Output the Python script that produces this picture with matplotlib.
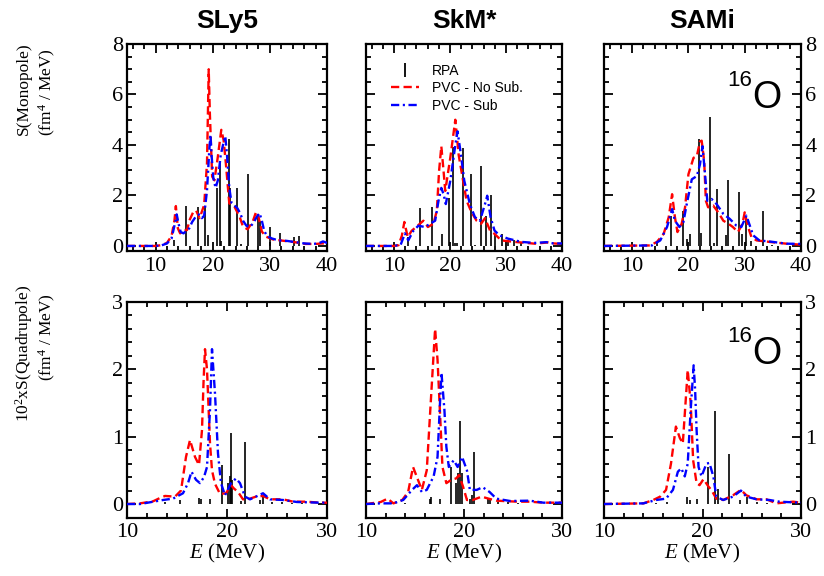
import matplotlib
matplotlib.use("Agg")
import matplotlib.pyplot as plt
from matplotlib.ticker import MultipleLocator
from matplotlib.lines import Line2D

plt.rcParams['font.family'] = ['Liberation Serif', 'DejaVu Serif']
plt.rcParams['mathtext.fontset'] = 'custom'
plt.rcParams['mathtext.rm'] = 'Liberation Serif'
plt.rcParams['mathtext.it'] = 'Liberation Serif:italic'

# ---------------- Monopole strength (fm^4/MeV) ----------------
# SLy5
sly5_mono_rpa_E = [13.2, 15.4, 17.5, 18.7, 19.1, 20.7, 21.2, 21.5, 22.9, 23.1, 24.2, 24.9, 26.1, 28.0, 28.3, 30.0, 31.8, 34.2, 35.1]
sly5_mono_rpa_S = [0.22, 1.57, 1.53, 1.6, 0.42, 2.31, 3.36, 0.18, 4.24, 2.3, 2.29, 0.09, 2.86, 1.27, 1.0, 0.75, 0.5, 0.37, 0.4]
sly5_mono_nosub_E = [5, 10, 11, 12, 12.8, 13.3, 13.55, 13.9, 14.3, 14.9, 15.5, 16.0, 16.6, 17.1, 17.7, 18.5, 19.0, 19.3, 19.5, 19.9, 20.3, 20.9, 21.5, 21.9, 22.3, 22.9, 23.8, 24.7, 25.3, 26.1, 27.0, 27.6, 28.0, 28.6, 29.3, 30.5, 32.2, 34.0, 36.3, 38.0, 39.2, 40]
sly5_mono_nosub_S = [0, 0, 0.03, 0.12, 0.4, 1.0, 1.58, 0.7, 0.5, 0.63, 0.63, 1.05, 1.35, 1.4, 1.1, 1.62, 3.27, 7.0, 5.25, 2.75, 2.6, 3.54, 4.6, 4.2, 3.27, 1.69, 1.56, 1.16, 0.77, 0.66, 0.96, 1.36, 1.16, 0.57, 0.37, 0.26, 0.21, 0.16, 0.08, 0.08, 0.1, 0.1]
sly5_mono_sub_E = [5, 10, 11, 12, 12.8, 13.4, 13.7, 14.0, 14.4, 14.9, 15.4, 15.9, 16.4, 17.0, 17.6, 18.1, 18.5, 19.0, 19.4, 19.6, 19.8, 20.1, 20.5, 20.9, 21.4, 21.8, 22.2, 22.5, 22.9, 23.3, 23.8, 24.3, 24.8, 25.3, 25.9, 26.5, 27.1, 27.7, 28.2, 28.6, 29.0, 29.5, 30.3, 31.5, 33, 34.5, 36, 37.5, 38.5, 39.3, 40]
sly5_mono_sub_S = [0, 0, 0.02, 0.1, 0.3, 0.9, 1.25, 0.9, 0.55, 0.5, 0.6, 0.7, 0.95, 1.15, 1.25, 1.1, 1.2, 2.2, 3.8, 4.4, 3.6, 2.7, 2.3, 2.6, 3.6, 4.0, 4.35, 3.6, 2.3, 1.7, 1.6, 1.5, 1.3, 1.0, 0.8, 0.75, 0.9, 1.15, 1.3, 1.0, 0.6, 0.4, 0.3, 0.22, 0.2, 0.15, 0.1, 0.08, 0.1, 0.18, 0.12]

# SkM*
skm_mono_rpa_E = [12.5, 14.7, 16.7, 18.5, 19.8, 20.5, 20.9, 21.2, 22.4, 23.7, 24.4, 25.5, 26.5, 27.4, 28.1, 29.2, 30.4, 31.5, 32.7]
skm_mono_rpa_S = [0.35, 1.5, 1.53, 0.48, 1.88, 3.92, 0.1, 0.1, 3.88, 2.86, 0.03, 3.16, 1.2, 2.0, 0.48, 0.48, 0.16, 0.22, 0.15]
skm_mono_nosub_E = [5, 10, 10.8, 11.4, 11.85, 12.45, 13.15, 14.05, 15.25, 16.05, 17.05, 17.65, 18.05, 18.45, 18.85, 19.15, 20.05, 20.95, 21.55, 22.25, 22.95, 23.85, 24.75, 25.55, 26.25, 27.15, 27.95, 29.15, 31.55, 35.15, 37.5, 38.5, 40]
skm_mono_nosub_S = [0, 0, 0.03, 0.4, 0.95, 0.35, 0.6, 0.77, 1.0, 0.75, 0.88, 1.4, 2.97, 3.95, 2.97, 2.18, 3.49, 5.0, 3.6, 2.7, 1.8, 1.33, 1.0, 0.88, 1.1, 0.61, 0.48, 0.22, 0.16, 0.09, 0.14, 0.1, 0.08]
skm_mono_sub_E = [5, 10, 11.2, 11.95, 12.55, 13.45, 14.35, 15.55, 16.45, 17.35, 17.95, 18.45, 18.85, 19.25, 20.05, 20.95, 21.35, 21.95, 22.55, 23.55, 24.45, 25.35, 26.25, 26.65, 27.25, 27.95, 28.85, 30.35, 32.75, 35.15, 37.2, 38.5, 40]
skm_mono_sub_S = [0, 0, 0.05, 0.5, 0.22, 0.6, 0.8, 0.75, 0.88, 1.0, 1.79, 2.3, 2.05, 1.66, 2.58, 4.0, 4.54, 3.62, 2.58, 1.66, 1.14, 1.0, 1.66, 1.99, 1.14, 0.61, 0.42, 0.29, 0.16, 0.12, 0.15, 0.1, 0.1]

# SAMi
sami_mono_rpa_E = [14.4, 16.9, 19.0, 19.8, 20.2, 21.9, 22.3, 23.9, 24.5, 25.0, 26.6, 27.1, 29.0, 29.6, 30.2, 31.2, 33.2, 34.9]
sami_mono_rpa_S = [0.12, 1.2, 1.4, 0.29, 0.48, 4.24, 0.51, 5.1, 0.12, 2.25, 0.42, 2.6, 2.14, 0.48, 1.05, 0.2, 1.37, 0.05]
sami_mono_nosub_E = [5, 13.2, 14.4, 15.6, 16.5, 17.1, 17.6, 18.05, 18.8, 19.4, 20.0, 20.9, 21.5, 22.05, 22.35, 22.8, 23.1, 23.5, 24.4, 25.3, 26.2, 27.1, 27.9, 28.8, 29.6, 30.0, 30.6, 31.2, 32.1, 34.4, 37.4, 40]
sami_mono_nosub_S = [0, 0.02, 0.16, 0.48, 1.14, 2.05, 1.14, 0.55, 0.88, 1.53, 2.84, 3.49, 3.56, 4.14, 4.17, 3.36, 1.79, 1.53, 1.6, 1.33, 1.0, 0.88, 0.75, 0.55, 0.88, 1.33, 0.75, 0.35, 0.22, 0.16, 0.09, 0.05]
sami_mono_sub_E = [5, 13.5, 15.0, 16.2, 17.1, 17.6, 18.4, 19.1, 19.7, 20.6, 21.5, 22.05, 22.5, 22.9, 23.35, 24.1, 25.0, 26.2, 27.35, 28.5, 29.4, 30.3, 30.9, 31.5, 32.6, 35.0, 37.4, 40]
sami_mono_sub_S = [0, 0.02, 0.22, 0.75, 1.46, 1.0, 0.75, 0.94, 1.66, 2.64, 2.77, 3.23, 3.95, 2.97, 1.79, 1.86, 1.66, 1.27, 1.07, 0.81, 0.75, 1.2, 0.81, 0.42, 0.22, 0.16, 0.09, 0.08]

# ---------------- Quadrupole strength (10^2 fm^4/MeV) ----------------
# SLy5
sly5_quad_rpa_E = [13.8, 15.3, 17.2, 17.35, 18.3, 19.5, 20.1, 20.3, 20.4, 20.5, 21.4, 21.8, 23.3, 23.6, 24.5, 25.5, 26.5, 27.5]
sly5_quad_rpa_S = [0.03, 0.06, 0.09, 0.07, 0.07, 0.58, 0.31, 0.41, 1.06, 0.35, 0.04, 0.92, 0.06, 0.11, 0.03, 0.03, 0.02, 0.02]
sly5_quad_nosub_E = [10, 11.3, 12.6, 13.3, 13.8, 14.8, 15.4, 15.9, 16.3, 16.8, 17.2, 17.5, 17.65, 17.8, 18.0, 18.3, 18.5, 18.8, 19.3, 19.9, 20.4, 20.7, 21.1, 21.6, 22.1, 22.9, 23.6, 24.3, 25.6, 26.6, 27.9, 29.3, 30]
sly5_quad_nosub_S = [0.0, 0.01, 0.04, 0.09, 0.12, 0.11, 0.2, 0.7, 0.95, 0.7, 0.58, 1.1, 1.8, 2.3, 2.0, 0.9, 0.5, 0.3, 0.15, 0.16, 0.28, 0.23, 0.18, 0.07, 0.07, 0.11, 0.12, 0.07, 0.07, 0.035, 0.035, 0.02, 0.02]
sly5_quad_sub_E = [10, 11.3, 13.6, 14.6, 15.6, 16.1, 16.45, 16.9, 17.3, 17.7, 18.0, 18.3, 18.5, 18.8, 19.1, 19.4, 19.8, 20.4, 20.9, 21.3, 21.8, 22.3, 22.9, 23.6, 24.3, 25.6, 27.0, 29.3, 30]
sly5_quad_sub_S = [0, 0.0, 0.06, 0.08, 0.16, 0.31, 0.48, 0.36, 0.31, 0.4, 0.55, 1.4, 2.3, 1.64, 0.75, 0.31, 0.13, 0.31, 0.38, 0.31, 0.11, 0.07, 0.11, 0.16, 0.07, 0.06, 0.03, 0.02, 0.02]

# SkM*
skm_quad_rpa_E = [12.5, 14.0, 16.5, 16.65, 17.5, 18.7, 19.2, 19.4, 19.6, 19.8, 20.65, 20.8, 21.0, 22.4, 22.7, 23.5, 24.5, 25.5]
skm_quad_rpa_S = [0.02, 0.02, 0.08, 0.1, 0.08, 0.55, 0.31, 0.46, 1.23, 0.46, 0.07, 0.13, 0.78, 0.08, 0.06, 0.03, 0.03, 0.02]
skm_quad_nosub_E = [10, 11.5, 12.2, 12.8, 13.7, 14.3, 14.8, 15.3, 15.7, 16.2, 16.7, 17.05, 17.3, 17.6, 17.8, 18.2, 18.7, 19.2, 19.5, 19.9, 20.3, 20.9, 21.8, 22.5, 23.3, 25.4, 26.7, 28.1, 30]
skm_quad_nosub_S = [0.0, 0.03, 0.08, 0.01, 0.06, 0.18, 0.55, 0.36, 0.21, 0.5, 1.74, 2.6, 2.14, 1.2, 0.55, 0.31, 0.36, 0.38, 0.43, 0.26, 0.06, 0.06, 0.11, 0.08, 0.05, 0.035, 0.035, 0.02, 0.02]
skm_quad_sub_E = [10, 11.5, 12.8, 13.8, 14.7, 15.2, 15.7, 16.2, 16.9, 17.3, 17.55, 17.7, 18.0, 18.2, 18.45, 18.95, 19.35, 19.8, 20.3, 20.6, 21.3, 21.9, 22.6, 23.3, 24.7, 26.7, 28.1, 30]
skm_quad_sub_S = [0, 0.01, 0.01, 0.06, 0.21, 0.28, 0.18, 0.21, 0.41, 0.7, 1.5, 1.95, 1.4, 0.85, 0.55, 0.65, 0.55, 0.7, 0.5, 0.21, 0.21, 0.25, 0.18, 0.08, 0.045, 0.05, 0.02, 0.02]

# SAMi
sami_quad_rpa_E = [15.3, 16.4, 18.4, 18.7, 19.4, 20.6, 21.3, 21.6, 22.7, 23.8, 24.5, 25.5, 26.5]
sami_quad_rpa_S = [0.01, 0.03, 0.1, 0.06, 0.08, 0.55, 1.38, 0.23, 0.74, 0.06, 0.1, 0.03, 0.02]
sami_quad_nosub_E = [10, 14.0, 15.0, 15.7, 16.3, 16.8, 17.3, 17.7, 18.0, 18.3, 18.5, 18.8, 19.05, 19.4, 19.7, 20.1, 20.6, 20.9, 21.4, 22.1, 23.1, 23.9, 24.45, 25.5, 26.5, 27.5, 29.2, 30]
sami_quad_nosub_S = [0, 0.01, 0.06, 0.11, 0.21, 0.6, 1.15, 0.98, 0.9, 1.55, 1.99, 1.5, 0.65, 0.31, 0.28, 0.37, 0.26, 0.21, 0.08, 0.06, 0.13, 0.21, 0.13, 0.07, 0.07, 0.01, 0.035, 0.02]
sami_quad_sub_E = [10, 14, 15.3, 16.3, 17.0, 17.5, 17.85, 18.2, 18.5, 18.8, 19.1, 19.25, 19.4, 19.6, 19.9, 20.4, 20.7, 21.1, 21.4, 22.1, 23.1, 23.9, 24.45, 25.5, 26.8, 27.8, 29.2, 30]
sami_quad_sub_S = [0, 0.01, 0.06, 0.08, 0.21, 0.48, 0.53, 0.41, 0.6, 1.4, 2.06, 1.7, 1.1, 0.55, 0.41, 0.6, 0.61, 0.41, 0.11, 0.06, 0.11, 0.2, 0.11, 0.07, 0.06, 0.035, 0.025, 0.02]

forces = ["SLy5", "SkM*", "SAMi"]
legend_labels = ["RPA", "PVC - No Sub.", "PVC - Sub"]

mono = [
    (sly5_mono_rpa_E, sly5_mono_rpa_S, sly5_mono_nosub_E, sly5_mono_nosub_S, sly5_mono_sub_E, sly5_mono_sub_S),
    (skm_mono_rpa_E, skm_mono_rpa_S, skm_mono_nosub_E, skm_mono_nosub_S, skm_mono_sub_E, skm_mono_sub_S),
    (sami_mono_rpa_E, sami_mono_rpa_S, sami_mono_nosub_E, sami_mono_nosub_S, sami_mono_sub_E, sami_mono_sub_S),
]
quad = [
    (sly5_quad_rpa_E, sly5_quad_rpa_S, sly5_quad_nosub_E, sly5_quad_nosub_S, sly5_quad_sub_E, sly5_quad_sub_S),
    (skm_quad_rpa_E, skm_quad_rpa_S, skm_quad_nosub_E, skm_quad_nosub_S, skm_quad_sub_E, skm_quad_sub_S),
    (sami_quad_rpa_E, sami_quad_rpa_S, sami_quad_nosub_E, sami_quad_nosub_S, sami_quad_sub_E, sami_quad_sub_S),
]

W, H = 824, 576
fig = plt.figure(figsize=(W / 100, H / 100), dpi=100)

col_x = [(127, 200), (366, 196), (604, 197)]
row_y = [(44, 251), (302, 517.5)]

RED_LS = (0, (3.5, 1.8))
BLUE_LS = (0, (3.5, 1.5, 0.9, 1.5))
SANS = ['Liberation Sans', 'DejaVu Sans']


def make_ax(col, row):
    x0, w = col_x[col]
    t, b = row_y[row]
    return fig.add_axes([x0 / W, 1 - b / H, w / W, (b - t) / H])


def draw(ax, data):
    rE, rS, nE, nS, sE, sS = data
    ax.vlines(rE, 0, rS, color='black', lw=1.2, zorder=2)
    ax.plot(nE, nS, color='red', lw=1.7, ls=RED_LS, zorder=3)
    ax.plot(sE, sS, color='blue', lw=1.7, ls=BLUE_LS, zorder=4)


def style(ax, col):
    for s in ax.spines.values():
        s.set_linewidth(1.6)
    ax.tick_params(which='both', direction='in', top=True, right=True,
                   labelsize=16, width=1.3)
    ax.tick_params(which='major', length=6.5)
    ax.tick_params(axis='x', which='major', pad=4)
    ax.tick_params(axis='y', which='major', pad=3)
    ax.tick_params(which='minor', length=3.5)
    if col == 1:
        ax.tick_params(labelleft=False)
    elif col == 2:
        ax.tick_params(labelleft=False, labelright=True)


axes = {}
for c in range(3):
    ax = make_ax(c, 0)
    draw(ax, mono[c])
    ax.set_xlim(5, 40)
    ax.set_ylim(-0.2, 8)
    ax.xaxis.set_major_locator(MultipleLocator(10))
    ax.xaxis.set_minor_locator(MultipleLocator(2))
    ax.yaxis.set_major_locator(MultipleLocator(2))
    ax.yaxis.set_minor_locator(MultipleLocator(0.5))
    style(ax, c)
    axes[(0, c)] = ax

    ax = make_ax(c, 1)
    draw(ax, quad[c])
    ax.set_xlim(10, 30)
    ax.set_ylim(-0.2, 3)
    ax.xaxis.set_major_locator(MultipleLocator(10))
    ax.xaxis.set_minor_locator(MultipleLocator(2))
    ax.yaxis.set_major_locator(MultipleLocator(1))
    ax.yaxis.set_minor_locator(MultipleLocator(0.2))
    style(ax, c)
    axes[(1, c)] = ax

# Column titles and energy axis labels
for c, name in enumerate(forces):
    x0, w = col_x[c]
    fig.text((x0 + w / 2) / W, 1 - 28 / H, name, ha='center', va='baseline',
             fontsize=19, fontweight='bold', family=SANS)
    fig.text((x0 + w / 2) / W, 1 - 553 / H, "$E$ (MeV)", ha='center',
             va='center', fontsize=15)

# Y-axis labels
fig.text(24 / W, 1 - 89 / H, "S(Monopole)", rotation=90, ha='center',
         va='center', fontsize=12.5)
fig.text(47 / W, 1 - 92 / H, "(fm$^{4}$ / MeV)", rotation=90, ha='center',
         va='center', fontsize=12.5)
fig.text(24 / W, 1 - 353 / H, "10$^{2}$xS(Quadrupole)", rotation=90,
         ha='center', va='center', fontsize=12.5)
fig.text(47 / W, 1 - 337 / H, "(fm$^{4}$ / MeV)", rotation=90, ha='center',
         va='center', fontsize=12.5)

# Legend
handles = [
    Line2D([], [], color='black', marker='|', ls='None', markersize=10, mew=1.3),
    Line2D([], [], color='red', lw=1.7, ls=RED_LS),
    Line2D([], [], color='blue', lw=1.7, ls=BLUE_LS),
]
axes[(0, 1)].legend(handles, legend_labels, loc='upper left',
                    bbox_to_anchor=(0.13, 0.905), frameon=False,
                    prop={'family': SANS, 'size': 10}, handlelength=2.0,
                    handletextpad=0.9, labelspacing=0.25, borderpad=0,
                    borderaxespad=0)

# Nucleus label
for r, (yo, ysup) in enumerate([(0.739, 0.826), (0.761, 0.842)]):
    ax = axes[(r, 2)]
    ax.text(0.751, ysup, "16", transform=ax.transAxes, ha='right',
            va='center', fontsize=16, family=SANS)
    ax.text(0.827, yo, "O", transform=ax.transAxes, ha='center',
            va='center', fontsize=27, family=SANS)

fig.savefig("out.png", dpi=100)
